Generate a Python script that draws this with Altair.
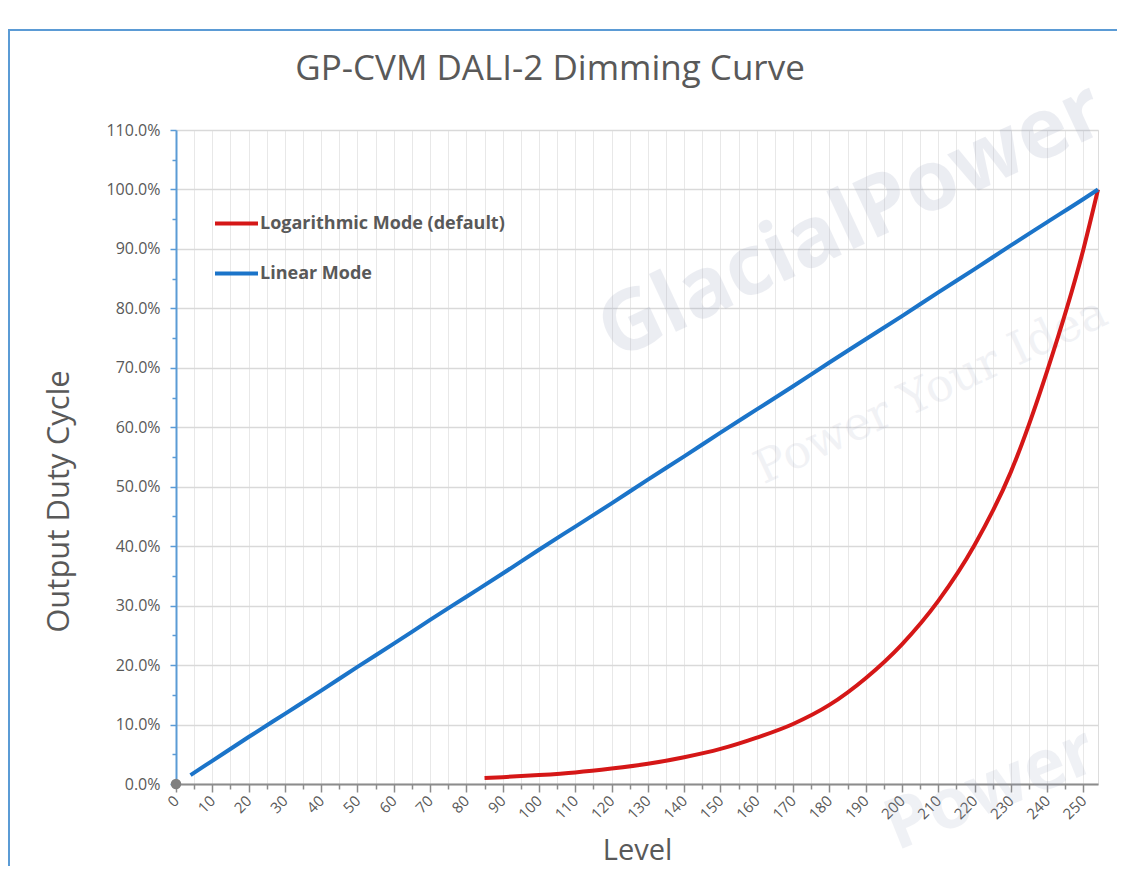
import altair as alt
import pandas as pd

# ---- data ----
log_levels = [85, 90, 100, 110, 120, 130, 140, 150, 160, 170, 180, 190, 200, 210, 220, 230, 240, 250, 254]
log_values = [1.0, 1.15, 1.5, 1.95, 2.6, 3.4, 4.5, 5.9, 7.8, 10.1, 13.3, 17.8, 23.5, 30.8, 40.2, 52.5, 69.5, 90.0, 100.0]

lin_levels = [4, 10, 20, 30, 40, 50, 60, 70, 80, 90, 100, 110, 120, 130, 140, 150, 160, 170, 180, 190, 200, 210, 220, 230, 240, 250, 254]
lin_values = [1.5, 3.9, 7.9, 11.8, 15.7, 19.7, 23.6, 27.6, 31.5, 35.4, 39.4, 43.3, 47.2, 51.2, 55.1, 59.1, 63.0, 66.9, 70.9, 74.8, 78.7, 82.7, 86.6, 90.6, 94.5, 98.4, 100.0]

series_names = ["Logarithmic Mode (default)", "Linear Mode"]
series_colors = ["#d51717", "#1b74c9"]

origin_level = [0]
origin_value = [0]

x_ticks = list(range(0, 255, 5))
y_ticks = list(range(0, 111, 5))

title_text = "GP-CVM DALI-2 Dimming Curve"
x_title = "Level"
y_title = "Output Duty Cycle"

FONT = "Open Sans"
TXT = "#595959"

rows = []
for l, v in zip(log_levels, log_values):
    rows.append({"level": l, "value": v, "series": series_names[0]})
for l, v in zip(lin_levels, lin_values):
    rows.append({"level": l, "value": v, "series": series_names[1]})
df = pd.DataFrame(rows)

xscale = alt.Scale(domain=[0, 254], nice=False, zero=False)
yscale = alt.Scale(domain=[0, 110], nice=False)

x_axis = alt.Axis(
    values=x_ticks,
    labelExpr="datum.value % 10 === 0 ? datum.label : ''",
    labelAngle=-45, labelAlign="right", labelBaseline="middle",
    labelFont=FONT, labelFontSize=15, labelColor=TXT, labelPadding=6,
    labelOverlap=False, labelFlush=False, labelBound=False,
    domainColor="#8c8c8c", domainWidth=2,
    tickColor="#8c8c8c", tickWidth=1.5,
    tickSize={"condition": {"test": "datum.value % 10 === 0", "value": 8}, "value": 5},
    grid=True, gridColor="#e8e8e8", gridWidth=1,
    title=x_title, titleFont=FONT, titleFontSize=29, titleColor=TXT,
    titleFontWeight="normal", titleBaseline="alphabetic", titleY=75,
)
y_axis = alt.Axis(
    values=y_ticks,
    labelExpr="datum.value % 10 === 0 ? format(datum.value, '.1f') + '%' : ''",
    labelFont=FONT, labelFontSize=16, labelColor=TXT, labelPadding=10,
    labelOverlap=False,
    domainColor="#5b9bd5", domainWidth=2,
    tickColor="#5b9bd5", tickWidth=1.5,
    tickSize={"condition": {"test": "datum.value % 10 === 0", "value": 6}, "value": 4},
    grid=True, gridColor="#d9d9d9", gridWidth=1.5,
    gridOpacity={"condition": {"test": "datum.value % 10 === 0", "value": 1}, "value": 0},
    title=y_title, titleFont=FONT, titleFontSize=31, titleColor=TXT,
    titleFontWeight="normal", titleBaseline="alphabetic", titleX=-108, titleY=371,
)

lines = alt.Chart(df).mark_line(strokeWidth=4, interpolate="monotone").encode(
    x=alt.X("level:Q", scale=xscale, axis=x_axis),
    y=alt.Y("value:Q", scale=yscale, axis=y_axis),
    color=alt.Color(
        "series:N",
        scale=alt.Scale(domain=series_names, range=series_colors),
        legend=alt.Legend(
            title=None, orient="none", legendX=37, legendY=70,
            symbolType="stroke", symbolSize=1849, symbolStrokeWidth=4,
            labelFont=FONT, labelFontSize=18, labelFontWeight="bold",
            labelColor=TXT, labelOffset=0, rowPadding=17, labelLimit=500,
        ),
    ),
    order="level:Q",
)

origin = alt.Chart(pd.DataFrame({"level": origin_level, "value": origin_value})).mark_circle(
    size=110, color="#808080", opacity=1
).encode(x=alt.X("level:Q", scale=xscale, axis=x_axis), y=alt.Y("value:Q", scale=yscale, axis=y_axis))

wm = pd.DataFrame({"t": ["x"]})

# title as text
title = alt.Chart(wm).mark_text(text=title_text, font=FONT, fontSize=35, color=TXT,
                                align="center", baseline="alphabetic").encode(
    x=alt.value(374), y=alt.value(-50))

# faint watermark (decoration, pixel placed, semi-transparent)
wm1 = alt.Chart(wm).mark_text(text="GlacialPower", font=FONT, fontSize=84, fontWeight="bold",
                              color="#97a0bb", opacity=0.18, angle=335).encode(
    x=alt.value(676), y=alt.value(92))
wm2 = alt.Chart(wm).mark_text(text="Power Your Idea", font="DejaVu Serif", fontSize=46,
                              color="#97a0bb", opacity=0.13, angle=335).encode(
    x=alt.value(755), y=alt.value(261))
wm3 = alt.Chart(wm).mark_text(text="Power", font=FONT, fontSize=70, fontWeight="bold",
                              color="#97a0bb", opacity=0.14, angle=338).encode(
    x=alt.value(815), y=alt.value(660))

# frame border (decorative)
border_v = alt.Chart(wm).mark_rule(color="#5b9bd5", strokeWidth=2).encode(
    x=alt.value(-167), y=alt.value(-100), y2=alt.value(760))
border_h = alt.Chart(wm).mark_rule(color="#5b9bd5", strokeWidth=2).encode(
    x=alt.value(-168), x2=alt.value(960), y=alt.value(-100))

chart = alt.layer(wm1, wm2, wm3, lines, border_v, border_h, title, origin).properties(
    width=922, height=654,
    padding={"left": 168, "top": 122, "right": 19, "bottom": 82},
    autosize=alt.AutoSizeParams(type="none"),
).configure_view(strokeOpacity=0).configure(background="white")

chart.save("out.html", embed_options={"renderer": "svg", "actions": False})
